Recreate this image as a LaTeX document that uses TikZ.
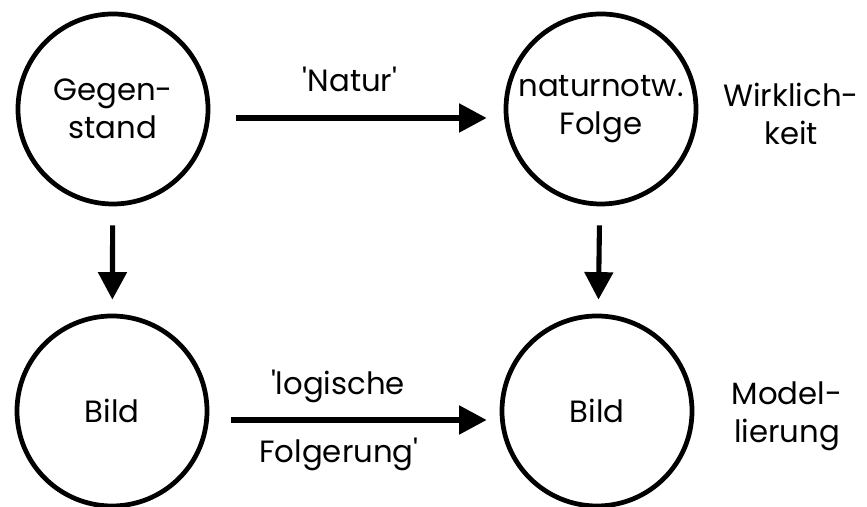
\documentclass[tikz,border=0pt]{standalone}
\usepackage{fontspec}
\setmainfont{Poppins}
\usetikzlibrary{arrows.meta,positioning}

\begin{document}
\begin{tikzpicture}[
  c/.style={circle,draw=black,line width=2.7pt,minimum size=3.8cm,inner sep=0pt,align=center,font=\fontsize{17.5}{21.5}\selectfont},
  t/.style={align=center,font=\fontsize{17.5}{21.5}\selectfont},
  a/.style={draw=black,line width=2.9pt,-{Triangle[length=5.5mm,width=5.6mm]}}
]
\useasboundingbox (0,0) rectangle (17.34,10.14);
\node[c] (gegen) at (2.26,7.96) {Gegen-\\stand};
\node[c] (folge) at (12.02,7.96) {naturnotw.\\Folge};
\node[c] (bild1) at (2.24,1.92) {Bild};
\node[c] (bild2) at (11.94,1.92) {Bild};
\node[t] (wirk) at (15.82,7.86) {Wirklich-\\keit};
\node[t] (model) at (15.74,1.82) {Model-\\lierung};
\node[t] (natur) at (7.0,8.56) {\textquotesingle Natur\textquotesingle};
\node[t] (logi) at (6.76,2.42) {\textquotesingle logische};
\node[t] (folg) at (6.78,1.06) {Folgerung\textquotesingle};
\draw[a,shorten <=0.52cm,shorten >=0.34cm] ([yshift=-0.18cm]gegen.east)--([yshift=-0.18cm]folge.west);
\draw[a,shorten <=0.44cm,shorten >=0.26cm] ([yshift=-0.18cm]bild1.east)--([yshift=-0.18cm]bild2.west);
\draw[a,shorten <=0.38cm,shorten >=0.28cm] (gegen)--(bild1);
\draw[a,shorten <=0.38cm,shorten >=0.28cm] (folge)--(bild2);
\end{tikzpicture}
\end{document}
